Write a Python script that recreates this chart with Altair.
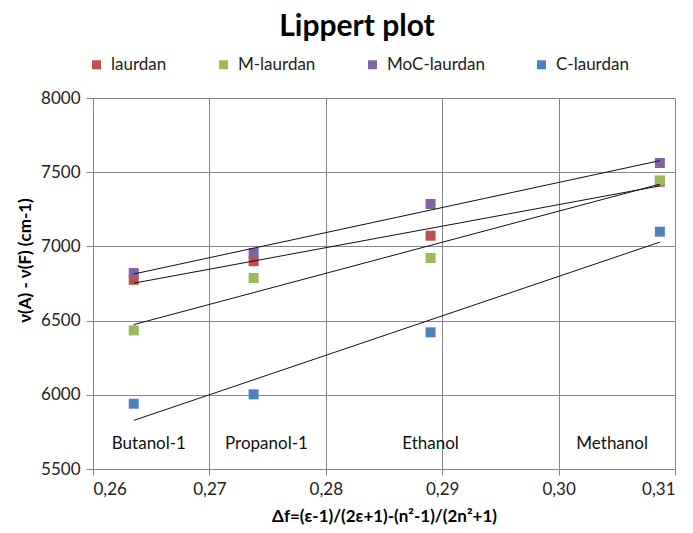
import altair as alt
import pandas as pd

# ---- data ----
series_names = ["laurdan", "M-laurdan", "MoC-laurdan", "C-laurdan"]
series_colors = ["#C0504D", "#9BBB59", "#8064A2", "#4F81BD"]

delta_f = [0.2635, 0.2738, 0.2890, 0.3087]  # Butanol-1, Propanol-1, Ethanol, Methanol

laurdan = [6775, 6900, 7072, 7436]
m_laurdan = [6434, 6787, 6922, 7445]
moc_laurdan = [6821, 6956, 7286, 7562]
c_laurdan = [5940, 6003, 6421, 7099]

solvents = ["Butanol-1", "Propanol-1", "Ethanol", "Methanol"]
solvent_label_x = [0.2648, 0.2749, 0.2890, 0.3046]
solvent_label_y = [5670, 5670, 5670, 5670]

x_ticks = [0.26, 0.27, 0.28, 0.29, 0.30, 0.31]
y_ticks = [5500, 6000, 6500, 7000, 7500, 8000]

# ---- build tables ----
rows = []
for name, vals in zip(series_names, [laurdan, m_laurdan, moc_laurdan, c_laurdan]):
    for xv, yv in zip(delta_f, vals):
        rows.append({"series": name, "x": xv, "y": yv})
df = pd.DataFrame(rows)
labels_df = pd.DataFrame({"label": solvents, "x": solvent_label_x, "y": solvent_label_y})

FONT = "Lato"
GRID = "#868686"

xscale = alt.Scale(domain=[0.26, 0.31], nice=False, zero=False)
yscale = alt.Scale(domain=[5500, 8000], nice=False, zero=False)

xaxis = alt.Axis(
    values=x_ticks,
    labelExpr="replace(format(datum.value, '.2f'), '.', ',')",
    title="Δf=(ε-1)/(2ε+1)-(n²-1)/(2n²+1)",
    titleFontWeight="bold",
    titleFontSize=17,
    titleFont=FONT,
    titleColor="#000000",
    titlePadding=11,
    labelFont=FONT,
    labelFontSize=17,
    labelColor="#222222",
    labelPadding=6,
    grid=True,
    gridColor=GRID,
    domainColor=GRID,
    tickColor=GRID,
    tickSize=6,
)
yaxis = alt.Axis(
    values=y_ticks,
    format="d",
    title="ν(A) - ν(F) (cm-1)",
    titleFontWeight="bold",
    titleFontSize=17,
    titleFont=FONT,
    titleColor="#000000",
    titleX=-68,
    titleY=162,
    titleAlign="center",
    titleBaseline="middle",
    labelFont=FONT,
    labelFontSize=17,
    labelColor="#222222",
    labelPadding=6,
    grid=True,
    gridColor=GRID,
    domainColor=GRID,
    tickColor=GRID,
    tickSize=7,
)

color = alt.Color(
    "series:N",
    scale=alt.Scale(domain=series_names, range=series_colors),
    sort=series_names,
    legend=alt.Legend(
        title=None,
        orient="none",
        direction="horizontal",
        columns=4,
        legendX=-5,
        legendY=-42,
        columnPadding=48,
        labelOffset=6,
        symbolType="square",
        symbolSize=81,
        symbolStrokeWidth=0,
        symbolOpacity=1,
        labelFont=FONT,
        labelFontSize=17,
        labelColor="#222222",
    ),
)

base = alt.Chart(df)

points = base.mark_square(size=100, opacity=1).encode(
    x=alt.X("x:Q", scale=xscale, axis=xaxis),
    y=alt.Y("y:Q", scale=yscale, axis=yaxis),
    color=color,
    order=alt.Order("series_order:Q"),
).transform_calculate(
    series_order="indexof(['laurdan','M-laurdan','MoC-laurdan','C-laurdan'], datum.series)"
)

trend = base.transform_regression("x", "y", groupby=["series"]).mark_line(
    color="#111111", strokeWidth=1
).encode(
    x=alt.X("x:Q", scale=xscale),
    y=alt.Y("y:Q", scale=yscale),
    detail="series:N",
)

text = alt.Chart(labels_df).mark_text(
    font=FONT, fontSize=17, color="#111111", align="center", baseline="middle"
).encode(
    x=alt.X("x:Q", scale=xscale),
    y=alt.Y("y:Q", scale=yscale),
    text="label:N",
)

chart = (
    alt.layer(text, points, trend)
    .properties(
        width=582,
        height=371,
        title=alt.TitleParams(
            "Lippert plot",
            font=FONT,
            fontSize=30,
            fontWeight="bold",
            color="#000000",
            anchor="middle",
            dx=-27,
            dy=-10,
        ),
        autosize=alt.AutoSizeParams(type="none"),
        padding={"left": 93, "top": 98, "right": 18, "bottom": 64},
    )
    .configure_view(stroke=None)
    .configure(background="white")
)

chart.save("out.html", embed_options={"renderer": "svg", "actions": False})
